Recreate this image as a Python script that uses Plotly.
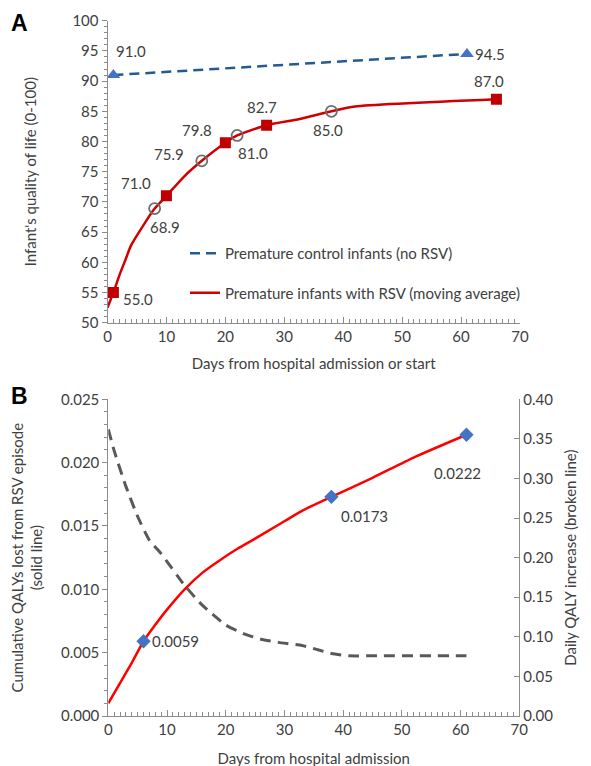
import plotly.graph_objects as go

# ---------------- Panel A data ----------------
control_days = [1, 61]
control_qol = [91.0, 94.5]
control_labels = ["91.0", "94.5"]

rsv_curve_days = [0, 1, 2, 3, 4, 6, 8, 10, 13, 16, 20, 22, 27, 32, 38, 42, 66]
rsv_curve_qol = [52.5, 55.0, 57.8, 60.3, 62.8, 66.0, 68.9, 71.0, 74.2, 76.8,
                 79.8, 81.0, 82.7, 83.6, 85.0, 85.8, 87.0]

rsv_square_days = [1, 10, 20, 27, 66]
rsv_square_qol = [55.0, 71.0, 79.8, 82.7, 87.0]
rsv_square_labels = ["55.0", "71.0", "79.8", "82.7", "87.0"]

rsv_circle_days = [8, 16, 22, 38]
rsv_circle_qol = [68.9, 76.8, 81.0, 85.0]
rsv_circle_labels = ["68.9", "75.9", "81.0", "85.0"]

# ---------------- Panel B data ----------------
cum_days = [0, 2, 4, 6, 8, 10, 13, 16, 19, 22, 25, 29, 33, 38, 45, 52, 61]
cum_qaly = [0.0010, 0.0026, 0.0042, 0.0059, 0.0072, 0.0084, 0.0100, 0.0113,
            0.0123, 0.0132, 0.0140, 0.0151, 0.0162, 0.0173, 0.0188, 0.0204, 0.0222]

cum_marker_days = [6, 38, 61]
cum_marker_qaly = [0.0059, 0.0173, 0.0222]
cum_marker_labels = ["0.0059", "0.0173", "0.0222"]

daily_days = [0, 1, 3, 5, 7, 9, 13, 16, 20, 23, 26, 29, 33, 36, 38, 41, 45, 61]
daily_qaly = [0.362, 0.335, 0.290, 0.252, 0.222, 0.205, 0.165, 0.140, 0.115,
              0.104, 0.097, 0.093, 0.089, 0.083, 0.079, 0.076, 0.076, 0.076]

# ---------------- styling ----------------
FONT = "Lato, Carlito, Calibri, 'Open Sans', sans-serif"
FS = 15
TXT = "#404040"
AXC = "#8C8C8C"
W, H = 591, 766
OFF = 8  # page body offset


def px_x(v):
    return (v - OFF) / W


def px_y(v):
    return 1 - (v - OFF) / H


fig = go.Figure()

# Panel A traces
fig.add_trace(go.Scatter(x=control_days, y=control_qol, mode="lines",
                         line=dict(color="#235A8F", width=2.5, dash="10px,6px"),
                         name="Premature control infants (no RSV)",
                         legendgroup="a", xaxis="x", yaxis="y"))
fig.add_trace(go.Scatter(x=control_days, y=control_qol, mode="markers",
                         marker=dict(symbol="triangle-up", size=12, color="#4472C4"),
                         showlegend=False, xaxis="x", yaxis="y"))
fig.add_trace(go.Scatter(x=rsv_curve_days, y=rsv_curve_qol, mode="lines",
                         line=dict(color="#D00000", width=2.5, shape="spline", smoothing=0.6),
                         name="Premature infants with RSV (moving average)",
                         legendgroup="b", xaxis="x", yaxis="y"))
fig.add_trace(go.Scatter(x=rsv_square_days, y=rsv_square_qol, mode="markers",
                         marker=dict(symbol="square", size=11, color="#C00000"),
                         showlegend=False, xaxis="x", yaxis="y"))
fig.add_trace(go.Scatter(x=rsv_circle_days, y=rsv_circle_qol, mode="markers",
                         marker=dict(symbol="circle-open", size=11, color="#6E6E6E",
                                     line=dict(width=1.8, color="#6E6E6E")),
                         showlegend=False, xaxis="x", yaxis="y"))

# Panel B traces
fig.add_trace(go.Scatter(x=daily_days, y=daily_qaly, mode="lines",
                         line=dict(color="#595959", width=3, dash="11px,7px", shape="spline", smoothing=0.5),
                         showlegend=False, xaxis="x2", yaxis="y3"))
fig.add_trace(go.Scatter(x=cum_days, y=cum_qaly, mode="lines",
                         line=dict(color="#FF0000", width=2.5, shape="spline", smoothing=0.5),
                         showlegend=False, xaxis="x2", yaxis="y2"))
fig.add_trace(go.Scatter(x=cum_marker_days, y=cum_marker_qaly, mode="markers",
                         marker=dict(symbol="diamond", size=11, color="#4472C4"),
                         showlegend=False, xaxis="x2", yaxis="y2"))

# data labels
annotations = []
def add_labels(xs, ys, labels, shifts, xref, yref):
    for x, y, t, (dx, dy) in zip(xs, ys, labels, shifts):
        annotations.append(dict(x=x, y=y, text=t, xref=xref, yref=yref, showarrow=False,
                                xshift=dx, yshift=-dy, font=dict(family=FONT, size=FS, color=TXT)))

add_labels(control_days, control_qol, control_labels, [(18, -24), (23, 0)], "x", "y")
add_labels(rsv_square_days, rsv_square_qol, rsv_square_labels,
           [(25, 6), (-30, -13), (-28, -13), (-5, -18), (-7, -18)], "x", "y")
add_labels(rsv_circle_days, rsv_circle_qol, rsv_circle_labels,
           [(10, 18), (-33, -7), (16, 18), (-3, 19)], "x", "y")
add_labels(cum_marker_days, cum_marker_qaly, cum_marker_labels,
           [(32, 0), (33, 19), (-9, 38)], "x2", "y2")

# panel letters
for letter, cx, cy in [("A", 20, 23), ("B", 20, 396)]:
    annotations.append(dict(x=px_x(cx), y=px_y(cy), xref="paper", yref="paper",
                            xanchor="center", yanchor="middle", text="<b>%s</b>" % letter,
                            showarrow=False,
                            font=dict(family="Arial, Liberation Sans", size=23, color="#000")))

tickfont = dict(family=FONT, size=FS, color=TXT)
titlefont = dict(family=FONT, size=FS, color=TXT)

common_axis = dict(showgrid=False, zeroline=False, showline=True, linecolor=AXC, linewidth=1,
                   tickcolor=AXC, tickfont=tickfont, automargin=False)

fig.update_layout(
    width=W, height=H, margin=dict(l=0, r=0, t=0, b=0, autoexpand=False),
    paper_bgcolor="white", plot_bgcolor="white",
    font=dict(family=FONT, size=FS, color=TXT),
    showlegend=True,
    legend=dict(x=px_x(185), y=px_y(237), xanchor="left", yanchor="top",
                bgcolor="rgba(0,0,0,0)", font=dict(family=FONT, size=FS, color=TXT),
                tracegroupgap=17, itemwidth=30, traceorder="grouped"),
    xaxis=dict(domain=[px_x(107.5), px_x(520)], anchor="y", range=[0, 70], dtick=10,
               ticks="inside", ticklen=6, minor=dict(dtick=1, ticks="inside", ticklen=4, tickcolor=AXC),
               title=dict(text="Days from hospital admission or start", font=titlefont, standoff=14),
               **common_axis),
    yaxis=dict(domain=[px_y(322.7), px_y(20.7)], anchor="x", range=[50, 100], dtick=5,
               ticks="outside", ticklen=5, minor=dict(dtick=1, ticks="outside", ticklen=3, tickcolor=AXC),
               title=dict(text="Infant's quality of life (0-100)", font=titlefont, standoff=32),
               **common_axis),
    xaxis2=dict(domain=[px_x(108.3), px_x(519.3)], anchor="y2", range=[0, 70], dtick=10,
                ticks="inside", ticklen=6, minor=dict(dtick=1, ticks="inside", ticklen=4, tickcolor=AXC),
                title=dict(text="Days from hospital admission", font=titlefont, standoff=16),
                **common_axis),
    yaxis2=dict(domain=[px_y(716), px_y(399.3)], anchor="x2", range=[0, 0.025], dtick=0.005,
                tickformat=".3f", ticks="outside", ticklen=5,
                minor=dict(dtick=0.001, ticks="outside", ticklen=3, tickcolor=AXC),
                title=dict(text="Cumulative QALYs lost from RSV episode<br>(solid line)", font=titlefont, standoff=14),
                **common_axis),
    yaxis3=dict(domain=[px_y(716), px_y(399.3)], anchor="x2", overlaying="y2", side="right",
                range=[0, 0.40], dtick=0.05, tickformat=".2f", ticks="inside", ticklen=5,
                title=dict(text="Daily QALY increase (broken line)", font=titlefont, standoff=13),
                **common_axis),
    annotations=annotations,
)

fig.write_html("out.html")
